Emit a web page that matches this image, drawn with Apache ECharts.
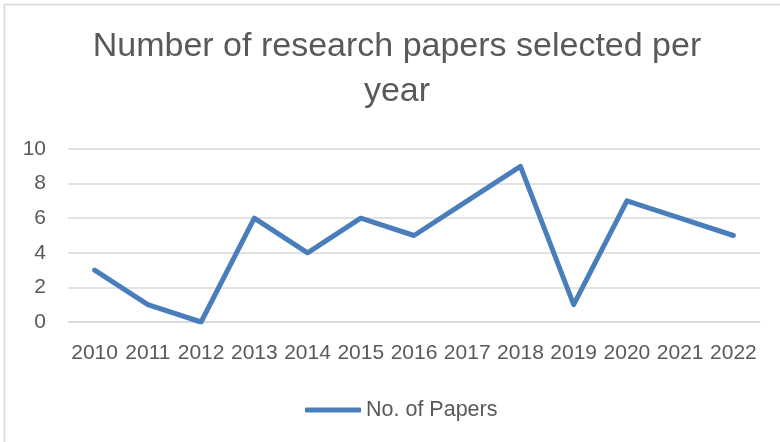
<!DOCTYPE html>
<html>
<head>
<meta charset="utf-8">
<script src="https://cdn.jsdelivr.net/npm/echarts@6/dist/echarts.min.js"></script>
<style>
  html, body { margin: 0; padding: 0; background: #fff; }
  #chart { width: 780px; height: 442px; }
</style>
</head>
<body>
<div id="chart"></div>
<script>
// Papers selected each year
const years = ['2010', '2011', '2012', '2013', '2014', '2015', '2016', '2017', '2018', '2019', '2020', '2021', '2022'];
const papers = [3, 1, 0, 6, 4, 6, 5, 7, 9, 1, 7, 6, 5];
const seriesName = 'No. of Papers';
const titleText = 'Number of research papers selected per\nyear';

const FONT = 'Liberation Sans';
const TEXT = '#595959';
const LINE = '#4a7ebb';

const chart = echarts.init(document.getElementById('chart'), null, { renderer: 'canvas' });
chart.setOption({
  animation: false,
  backgroundColor: '#fff',
  title: {
    text: titleText,
    left: 397,
    top: 24,
    padding: 0,
    textAlign: 'center',
    textStyle: { fontFamily: FONT, fontSize: 34, fontWeight: 'normal', color: TEXT, lineHeight: 45 }
  },
  legend: {
    bottom: 21,
    left: 305,
    padding: 0,
    itemWidth: 56,
    itemHeight: 5,
    itemGap: 6,
    icon: 'roundRect',
    textStyle: { fontFamily: FONT, fontSize: 21.5, color: TEXT },
    data: [seriesName]
  },
  grid: { left: 68, right: 20, top: 149, bottom: 120, containLabel: false },
  xAxis: {
    type: 'category',
    data: years,
    boundaryGap: true,
    axisLine: { show: true, lineStyle: { color: '#d9d9d9', width: 1.5 } },
    axisTick: { show: false },
    axisLabel: { fontFamily: FONT, fontSize: 21, color: TEXT, margin: 21, interval: 0 }
  },
  yAxis: {
    type: 'value',
    min: 0,
    max: 10,
    interval: 2,
    axisLine: { show: false },
    axisTick: { show: false },
    axisLabel: { fontFamily: FONT, fontSize: 21, color: TEXT, margin: 22 },
    splitLine: { lineStyle: { color: '#d9d9d9', width: 1.5 } }
  },
  series: [{
    name: seriesName,
    type: 'line',
    data: papers,
    symbol: 'none',
    lineStyle: { color: LINE, width: 5, join: 'round', cap: 'round' },
    itemStyle: { color: LINE }
  }],
  graphic: [{
    type: 'rect',
    shape: { x: 4.5, y: 4.5, width: 800, height: 800 },
    style: { fill: 'none', stroke: '#d9d9d9', lineWidth: 1.5 },
    silent: true
  }]
});
</script>
</body>
</html>
